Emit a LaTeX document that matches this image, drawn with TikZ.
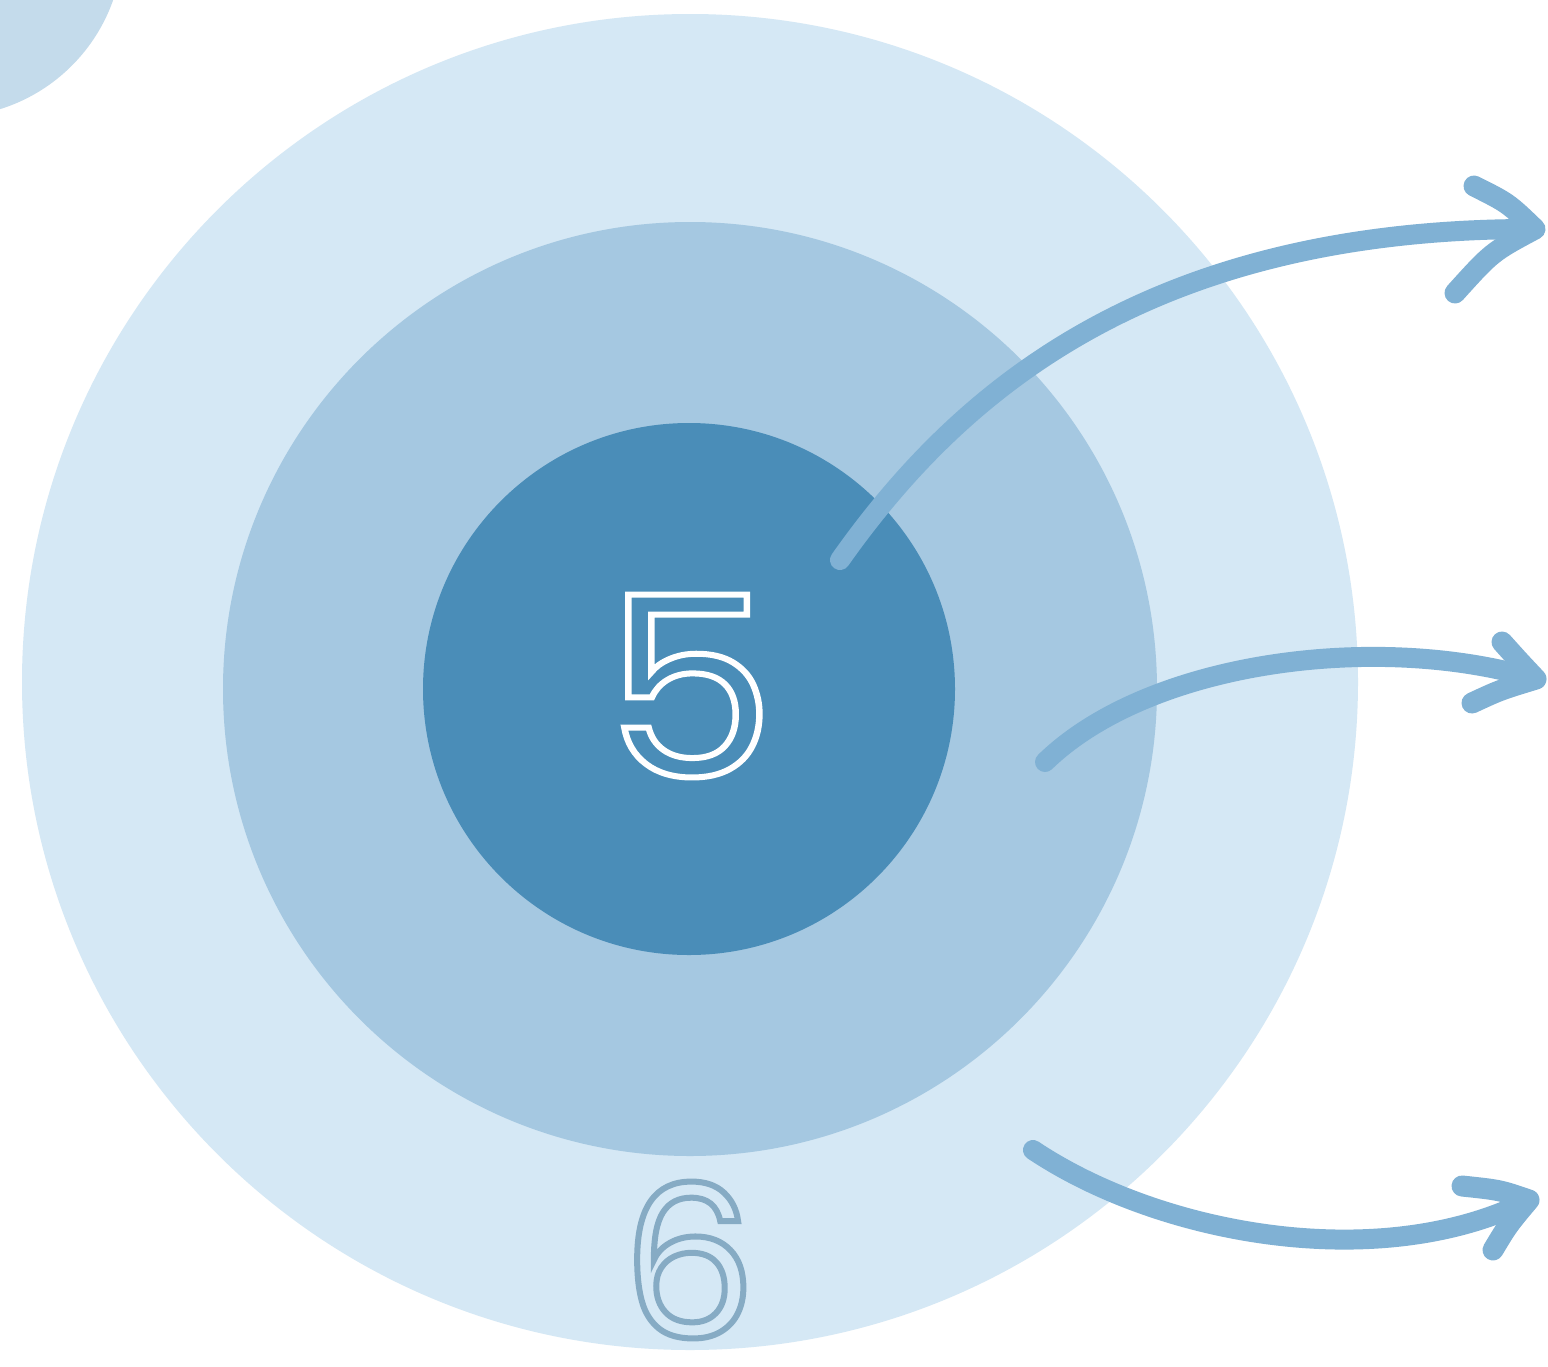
\documentclass[tikz,border=0pt]{standalone}
\usepackage{fontspec}
\newfontfamily\digitfont{Poppins}
\definecolor{cornerc}{HTML}{C4DBEB}
\definecolor{outerc}{HTML}{D5E8F5}
\definecolor{middlec}{HTML}{A5C8E1}
\definecolor{innerc}{HTML}{4A8DB8}
\definecolor{arrowc}{HTML}{80B1D4}
\definecolor{sixc}{HTML}{86ABC4}
\newcommand\outlinetext[2]{\special{pdf:literal direct 1 Tr #1 w}#2\special{pdf:literal direct 0 Tr}}
\tikzset{
  disc/.style={circle, inner sep=0pt, outer sep=0pt, draw=none},
  arrowline/.style={draw=arrowc, line width=20pt, line cap=round},
  barb/.style={draw=arrowc, line width=21pt, line cap=round, line join=round},
  digit/.style={inner sep=0pt, outer sep=0pt}
}
\begin{document}
\begin{tikzpicture}[x=1pt,y=-1pt]
\useasboundingbox (0,0) rectangle (1548,1366);
\begin{scope}
\clip (0,0) rectangle (1548,1366);
\fill[white] (0,0) rectangle (1548,1366);
\node[disc, fill=cornerc, minimum size=350pt] (corner) at (-52,-58) {};
\node[disc, fill=outerc, minimum size=1336pt] (outer) at (690,682) {};
\node[disc, fill=middlec, minimum size=934pt] (middle) at (690,689) {};
\node[disc, fill=innerc, minimum size=532pt] (inner) at (689,689) {};
\node[digit, text=white, font=\digitfont\fontsize{252}{252}\selectfont] (five) at (690,686) {\scalebox{1.08}[1]{\outlinetext{6}{5}}};
\node[digit, text=sixc, font=\digitfont\fontsize{212}{212}\selectfont] (six) at (689,1260) {\outlinetext{6}{6}};

% arrow 1
\coordinate (s1) at (840,560);
\coordinate (t1) at (1535,229);
\draw[arrowline] (s1) .. controls (960,390) and (1150,228) .. (t1);
\draw[barb] (1474,186) .. controls (1508,203) .. (t1) .. controls (1492,252) .. (1455,293);
% arrow 2
\coordinate (s2) at (1045,762);
\coordinate (t2) at (1536,679);
\draw[arrowline] (s2) .. controls (1150,660) and (1380,632) .. (t2);
\draw[barb] (1502,642) .. controls (1520,662) .. (t2) .. controls (1500,690) .. (1472,703);
% arrow 3
\coordinate (s3) at (1033,1150);
\coordinate (t3) at (1529,1200);
\draw[arrowline] (s3) .. controls (1160,1235) and (1380,1275) .. (t3);
\draw[barb] (1462,1186) .. controls (1500,1190) .. (t3) .. controls (1508,1225) .. (1493,1250);
\end{scope}
\end{tikzpicture}
\end{document}
